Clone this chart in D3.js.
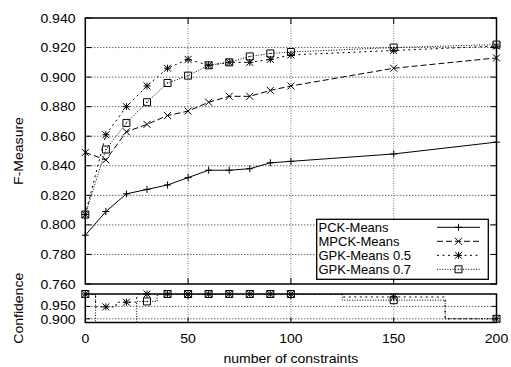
<!DOCTYPE html>
<html>
<head>
<meta charset="utf-8">
<script src="https://cdn.jsdelivr.net/npm/d3@7"></script>
<style>
  html, body { margin: 0; padding: 0; background: #fff; }
  svg { display: block; }
  text { font-family: "Liberation Sans", Arial, Helvetica, sans-serif; fill: #000; }
</style>
</head>
<body>
<svg id="chart" width="511" height="367"></svg>
<script>
// Number of constraints used in each run
const constraints = [0, 10, 20, 30, 40, 50, 60, 70, 80, 90, 100, 150, 200];

// F-Measure per algorithm
const pckMeans   = [0.793, 0.809, 0.821, 0.824, 0.827, 0.832, 0.837, 0.837, 0.838, 0.842, 0.843, 0.848, 0.856];
const mpckMeans  = [0.849, 0.844, 0.863, 0.868, 0.874, 0.877, 0.883, 0.887, 0.887, 0.891, 0.894, 0.906, 0.913];
const gpkMeans05 = [0.807, 0.861, 0.880, 0.894, 0.906, 0.912, 0.908, 0.910, 0.910, 0.912, 0.915, 0.918, 0.921];
const gpkMeans07 = [0.807, 0.851, 0.869, 0.883, 0.896, 0.901, 0.908, 0.910, 0.914, 0.916, 0.917, 0.920, 0.922];

// Confidence of the GPK-Means variants
const confGpk05 = [1.000, 0.948, 0.967, 1.000, 1.000, 1.000, 1.000, 1.000, 1.000, 1.000, 1.000, 0.988, 0.900];
const confGpk07 = [1.000, 0.800, 0.800, 0.970, 1.000, 1.000, 1.000, 1.000, 1.000, 1.000, 1.000, 0.975, 0.900];

// Tick values and labels
const xTicks = [0, 50, 100, 150, 200];
const fTicks = [0.76, 0.78, 0.80, 0.82, 0.84, 0.86, 0.88, 0.90, 0.92, 0.94];
const confTicks = [0.90, 0.95];
const seriesNames = ["PCK-Means", "MPCK-Means", "GPK-Means 0.5", "GPK-Means 0.7"];

const svg = d3.select("#chart");

const left = 85.3, right = 496.5;
const main = { top: 18, bottom: 284 };
const conf = { top: 294, bottom: 322.5 };

const x = d3.scaleLinear().domain([0, 200]).range([left, right]);
const y = d3.scaleLinear().domain([0.76, 0.94]).range([main.bottom, main.top]);
const yc = d3.scaleLinear().domain([0.885, 1.0]).range([conf.bottom, conf.top]);

const styles = [
  { dash: null,    marker: "plus"   },
  { dash: "6,3",   marker: "cross"  },
  { dash: "2,3.5", marker: "star"   },
  { dash: "1,1.6", marker: "square" }
];

const fontScale = 1.08;

// Marker glyphs
function markerPath(type, cx, cy) {
  const r = 3.5;
  const p = d3.path();
  if (type === "plus" || type === "star") {
    p.moveTo(cx - r, cy); p.lineTo(cx + r, cy);
    p.moveTo(cx, cy - r); p.lineTo(cx, cy + r);
  }
  if (type === "cross" || type === "star") {
    p.moveTo(cx - r, cy - r); p.lineTo(cx + r, cy + r);
    p.moveTo(cx - r, cy + r); p.lineTo(cx + r, cy - r);
  }
  if (type === "square") {
    p.rect(cx - r, cy - r, 2 * r, 2 * r);
    p.moveTo(cx - 0.6, cy); p.lineTo(cx + 0.6, cy);
  }
  return p.toString();
}

function drawMarkers(g, type, xv, yv, ys) {
  g.selectAll(null).data(xv.map((d, i) => [d, yv[i]]))
    .enter().append("path")
    .attr("d", d => markerPath(type, x(d[0]), ys(d[1])))
    .attr("fill", "none").attr("stroke", "#000").attr("stroke-width", 1);
}

// Histogram-style steps centred on each point
function histepsPath(xv, yv, ys) {
  const n = xv.length;
  const edges = [xv[0] - (xv[1] - xv[0]) / 2];
  for (let i = 1; i < n; i++) edges.push((xv[i - 1] + xv[i]) / 2);
  edges.push(xv[n - 1] + (xv[n - 1] - xv[n - 2]) / 2);
  const p = d3.path();
  p.moveTo(x(edges[0]), ys(yv[0]));
  for (let i = 0; i < n; i++) {
    p.lineTo(x(edges[i]), ys(yv[i]));
    p.lineTo(x(edges[i + 1]), ys(yv[i]));
  }
  return p.toString();
}

function label(g, txt, tx, ty, anchor, rotate, size, sx) {
  g.append("text")
    .attr("transform", `translate(${tx},${ty}) ${rotate ? "rotate(-90)" : ""} scale(${sx || fontScale},1)`)
    .attr("text-anchor", anchor)
    .attr("font-size", size || 13)
    .text(txt);
}

// ---------- grid ----------
const grid = svg.append("g");
fTicks.slice(1, -1).forEach(v => {
  grid.append("line").attr("x1", left).attr("x2", right).attr("y1", y(v)).attr("y2", y(v))
    .attr("stroke", "#222").attr("stroke-width", 1).attr("stroke-dasharray", "1,2");
});
confTicks.forEach(v => {
  grid.append("line").attr("x1", left).attr("x2", right).attr("y1", yc(v)).attr("y2", yc(v))
    .attr("stroke", "#222").attr("stroke-width", 1).attr("stroke-dasharray", "1,2");
});
xTicks.slice(1, -1).forEach(v => {
  [[main.top, main.bottom], [conf.top, conf.bottom]].forEach(([t, b]) => {
    grid.append("line").attr("x1", x(v)).attr("x2", x(v)).attr("y1", t).attr("y2", b)
      .attr("stroke", "#777").attr("stroke-width", 1).attr("stroke-dasharray", "1,1.5");
  });
});

// ---------- F-Measure series ----------
const fSeries = [pckMeans, mpckMeans, gpkMeans05, gpkMeans07];
const line = d3.line().x((d, i) => x(constraints[i])).y(d => y(d));
const plot = svg.append("g");
fSeries.forEach((vals, k) => {
  plot.append("path").attr("d", line(vals))
    .attr("fill", "none").attr("stroke", "#000").attr("stroke-width", 1)
    .attr("stroke-dasharray", styles[k].dash);
});
fSeries.forEach((vals, k) => drawMarkers(plot, styles[k].marker, constraints, vals, y));

// ---------- Confidence series ----------
svg.append("clipPath").attr("id", "confClip").append("rect")
  .attr("x", left).attr("y", conf.top).attr("width", right - left).attr("height", conf.bottom - conf.top);
const confPlot = svg.append("g");
const confSeries = [[confGpk05, 2], [confGpk07, 3]];
confSeries.forEach(([vals, k]) => {
  confPlot.append("path").attr("d", histepsPath(constraints, vals, yc))
    .attr("clip-path", "url(#confClip)")
    .attr("fill", "none").attr("stroke", "#000").attr("stroke-width", 1)
    .attr("stroke-dasharray", styles[k].dash);
});
confSeries.forEach(([vals, k]) => {
  const idx = vals.map((v, i) => i).filter(i => vals[i] >= yc.domain()[0]);
  drawMarkers(confPlot, styles[k].marker, idx.map(i => constraints[i]), idx.map(i => vals[i]), yc);
});

// ---------- frames and ticks ----------
const frame = svg.append("g");
[[main.top, main.bottom, 6], [conf.top, conf.bottom, 5]].forEach(([t, b, len]) => {
  xTicks.slice(1, -1).forEach(v => {
    frame.append("line").attr("x1", x(v)).attr("x2", x(v)).attr("y1", t).attr("y2", t + len).attr("stroke", "#000");
    frame.append("line").attr("x1", x(v)).attr("x2", x(v)).attr("y1", b).attr("y2", b - len).attr("stroke", "#000");
  });
});
fTicks.forEach(v => {
  frame.append("line").attr("x1", left).attr("x2", left + 6).attr("y1", y(v)).attr("y2", y(v)).attr("stroke", "#000");
  frame.append("line").attr("x1", right).attr("x2", right - 6).attr("y1", y(v)).attr("y2", y(v)).attr("stroke", "#000");
});
confTicks.forEach(v => {
  frame.append("line").attr("x1", left).attr("x2", left + 5).attr("y1", yc(v)).attr("y2", yc(v)).attr("stroke", "#000");
  frame.append("line").attr("x1", right).attr("x2", right - 5).attr("y1", yc(v)).attr("y2", yc(v)).attr("stroke", "#000");
});

// ---------- legend ----------
const legend = svg.append("g");
const lg = { x0: 316.7, y0: 219.3, x1: 488.3, y1: 279.3 };
legend.append("rect").attr("x", lg.x0).attr("y", lg.y0).attr("width", lg.x1 - lg.x0).attr("height", lg.y1 - lg.y0)
  .attr("fill", "#fff").attr("stroke", "#000").attr("stroke-width", 1.3);
seriesNames.forEach((name, k) => {
  const cy = 227.3 + k * 14;
  legend.append("text").attr("x", 318.5).attr("y", cy + 4.6).attr("font-size", 13).text(name);
  legend.append("line").attr("x1", 437).attr("x2", 480).attr("y1", cy).attr("y2", cy)
    .attr("stroke", "#000").attr("stroke-width", 1).attr("stroke-dasharray", styles[k].dash);
  legend.append("path").attr("d", markerPath(styles[k].marker, 458.5, cy))
    .attr("fill", "none").attr("stroke", "#000").attr("stroke-width", 1);
});

// panel borders on top
[[main.top, main.bottom], [conf.top, conf.bottom]].forEach(([t, b]) => {
  frame.append("rect").attr("x", left).attr("y", t).attr("width", right - left).attr("height", b - t)
    .attr("fill", "none").attr("stroke", "#000").attr("stroke-width", 1.5);
});

// ---------- labels ----------
const labels = svg.append("g");
fTicks.forEach(v => label(labels, d3.format(".3f")(v), 75.5, y(v) + 4.6, "end", false));
// the two confidence labels sit close together, so they are set a little smaller and nudged apart
const confLabelOffset = { 0.95: -0.9, 0.90: 0.7 };
confTicks.forEach(v => label(labels, d3.format(".3f")(v), 75.5, yc(v) + 4.2 + confLabelOffset[v], "end", false, 12, 1.17));
xTicks.forEach(v => label(labels, String(v), x(v), 343, "middle", false));
label(labels, "number of constraints", (left + right) / 2, 363, "middle", false);
label(labels, "F-Measure", 22.5, (main.top + main.bottom) / 2, "middle", true);
label(labels, "Confidence", 22.5, (conf.top + conf.bottom) / 2, "middle", true);
</script>
</body>
</html>
